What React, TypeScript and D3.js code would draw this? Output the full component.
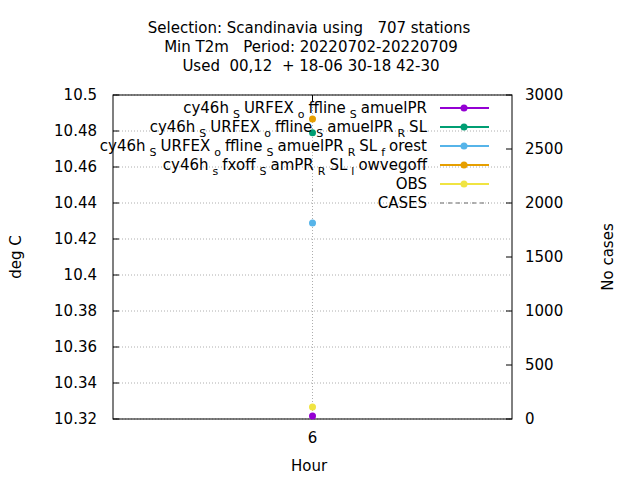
import * as d3 from 'd3';

const categories = [6];
const seriesNames = [
  [['cy46h', ''], ['S', 'sub'], ['URFEX', ''], ['o', 'sub'], ['ffline', ''], ['S', 'sub'], ['amuelPR', '']],
  [['cy46h', ''], ['S', 'sub'], ['URFEX', ''], ['o', 'sub'], ['ffline', ''], ['S', 'sub'], ['amuelPR', ''], ['R', 'sub'], ['SL', '']],
  [['cy46h', ''], ['S', 'sub'], ['URFEX', ''], ['o', 'sub'], ['ffline', ''], ['S', 'sub'], ['amuelPR', ''], ['R', 'sub'], ['SL', ''], ['f', 'sub'], ['orest', '']],
  [['cy46h', ''], ['s', 'sub'], ['fxoff', ''], ['S', 'sub'], ['amPR', ''], ['R', 'sub'], ['SL', ''], ['l', 'sub'], ['owvegoff', '']],
  [['OBS', '']],
];
const seriesColors = ['#9400d3', '#009e73', '#56b4e9', '#e69f00', '#f0e442'];
const seriesValues = [10.3217, 10.479, 10.4289, 10.4867, 10.3267];
const casesValues = [2120];
const yTicks = [10.32, 10.34, 10.36, 10.38, 10.4, 10.42, 10.44, 10.46, 10.48, 10.5];
const y2Ticks = [0, 500, 1000, 1500, 2000, 2500, 3000];

const L = 113, R = 512, T = 95, B = 419;
const font = 'DejaVu Sans, sans-serif';

export default function App() {
  const x = d3.scaleLinear().domain([5, 7]).range([L, R]);
  const y = d3.scaleLinear().domain([10.32, 10.5]).range([B, T]);
  const y2 = d3.scaleLinear().domain([0, 3000]).range([B, T]);
  const fmt = (v: number) => String(+v.toFixed(2));
  return (
    <svg width={640} height={480} style={{ position: 'absolute', left: 0, top: 0, background: '#fff' }} fontFamily={font}>
      <rect width={640} height={480} fill="#fff" />
      <g fontSize={15} textAnchor="middle">
        <text x={309} y={33} xmlSpace="preserve">Selection: Scandinavia using   707 stations</text>
        <text x={311} y={52} xmlSpace="preserve">Min T2m   Period: 20220702-20220709</text>
        <text x={311} y={71} xmlSpace="preserve">Used  00,12  + 18-06 30-18 42-30</text>
      </g>
      {yTicks.map(t => (
        <g key={t}>
          <line x1={L} x2={R} y1={y(t)} y2={y(t)} stroke="#999" strokeDasharray="1,2" strokeWidth={0.8} />
          <line x1={L} x2={L + 6} y1={y(t)} y2={y(t)} stroke="#000" />
          <text x={L - 16} y={y(t) + 5} fontSize={15} textAnchor="end">{fmt(t)}</text>
        </g>
      ))}
      {y2Ticks.map(t => (
        <g key={t}>
          <line x1={R - 6} x2={R} y1={y2(t)} y2={y2(t)} stroke="#000" />
          <text x={R + 13} y={y2(t) + 5} fontSize={15}>{t}</text>
        </g>
      ))}
      {categories.map(c => (
        <g key={c}>
          <line x1={x(c)} x2={x(c)} y1={T} y2={B} stroke="#999" strokeDasharray="1,2" strokeWidth={0.8} />
          <line x1={x(c)} x2={x(c)} y1={B} y2={B - 6} stroke="#000" />
          <line x1={x(c)} x2={x(c)} y1={T} y2={T + 6} stroke="#000" />
          <text x={x(c)} y={B + 24} fontSize={15} textAnchor="middle">{c}</text>
        </g>
      ))}
      <rect x={L} y={T} width={R - L} height={B - T} fill="none" stroke="#000" />
      <text x={309} y={471} fontSize={15} textAnchor="middle">Hour</text>
      <text transform={`translate(21,257) rotate(-90)`} fontSize={15} textAnchor="middle">deg C</text>
      <text transform={`translate(613,257) rotate(-90)`} fontSize={15} textAnchor="middle">No cases</text>
      {casesValues.map((v, i) => (
        <line key={i} x1={x(categories[i])} x2={x(categories[i])} y1={y2(v) - 1} y2={y2(v) + 1} stroke="#999" />
      ))}
      {seriesValues.map((v, i) => (
        <g key={i}>
          <circle cx={x(categories[0])} cy={y(v)} r={3.5} fill={seriesColors[i]} />
        </g>
      ))}
      {[...seriesNames, [['CASES', '']]].map((parts, i) => {
        const yy = 108 + i * 19;
        const col = i < 5 ? seriesColors[i] : '#999';
        return (
          <g key={i}>
            <text x={427} y={yy + 5} fontSize={15} textAnchor="end">
              {parts.map(([s, k], j) =>
                k === 'sub'
                  ? <tspan key={j} fontSize={11} dy={5} dx={4}>{s}</tspan>
                  : <tspan key={j} dy={j > 0 && parts[j - 1][1] === 'sub' ? -5 : 0} dx={j > 0 ? 4 : 0}>{s}</tspan>
              )}
            </text>
            <line x1={440} x2={489} y1={yy} y2={yy} stroke={col} strokeWidth={i < 5 ? 2 : 1.5} strokeDasharray={i < 5 ? undefined : '4,4'} />
            {i < 5 && <circle cx={464} cy={yy} r={3.5} fill={col} />}
          </g>
        );
      })}
    </svg>
  );
}
